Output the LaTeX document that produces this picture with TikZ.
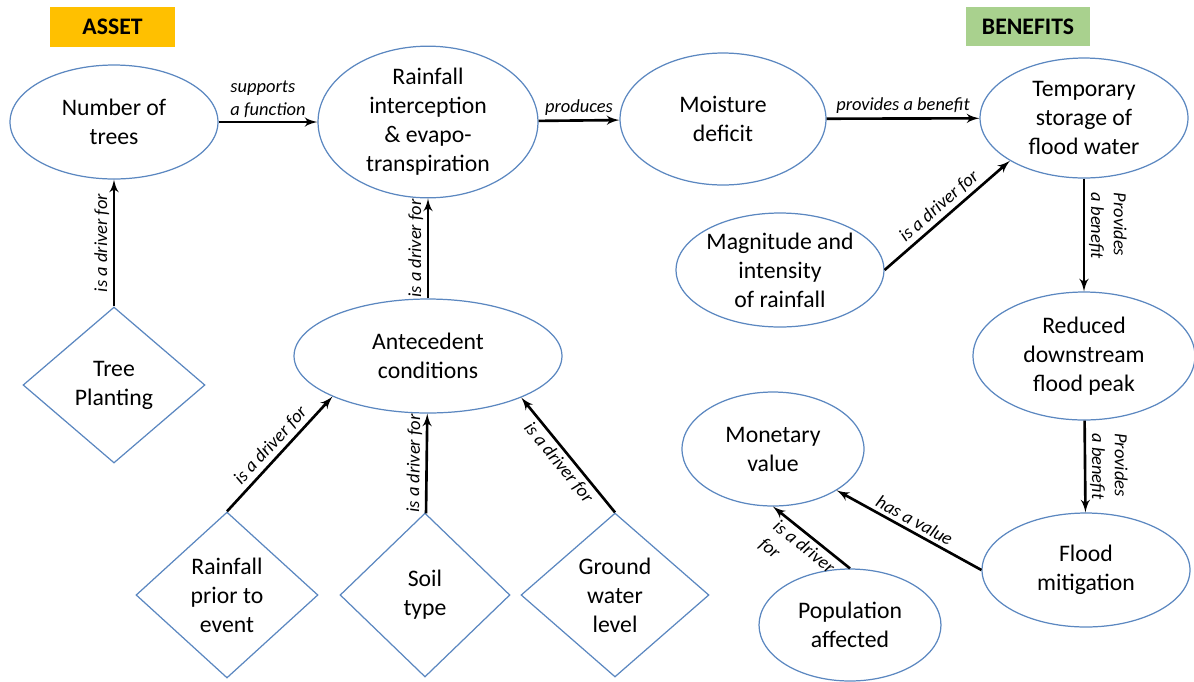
\documentclass[tikz,border=0pt]{standalone}
\usepackage{fontspec}
\setmainfont{Carlito}
\usetikzlibrary{arrows,shapes.geometric}
\definecolor{ellblue}{HTML}{5B87C0}
\definecolor{assetfill}{HTML}{FFC000}
\definecolor{benefitfill}{HTML}{A9D18E}

\begin{document}
\begin{tikzpicture}[x=0.02cm,y=-0.02cm,
    concept/.style={ellipse,draw=ellblue,line width=0.7pt,inner sep=0pt,align=center,font=\fontsize{13.5}{16.5}\selectfont},
    factor/.style={diamond,draw=ellblue,line width=0.7pt,inner sep=0pt,aspect=1,align=center,font=\fontsize{13.5}{16.5}\selectfont},
    link/.style={-latex',line width=1.5pt},
    verb/.style={font=\fontsize{10.5}{13}\selectfont\itshape,align=left,inner sep=2pt},
    tag/.style={inner sep=0pt,font=\fontsize{13.5}{16.5}\selectfont\bfseries}]
    \useasboundingbox (0,0) rectangle (1194,681);

    \node[tag,fill=assetfill,minimum width=2.5cm,minimum height=0.8cm] (asset) at (112.5,27) {ASSET};
    \node[tag,fill=benefitfill,minimum width=2.48cm,minimum height=0.78cm] (benefits) at (1028,26.5) {BENEFITS};

    \node[concept,minimum width=4.16cm,minimum height=2.28cm] (trees) at (114,122) {Number of\\trees};
    \node[concept,minimum width=4.4cm,minimum height=2.64cm] (interc) at (428,122) {Rainfall\\interception\\\& evapo-\\transpiration};
    \node[concept,minimum width=4.12cm,minimum height=2.64cm] (moist) at (723,119) {Moisture\\deficit};
    \node[concept,minimum width=4.16cm,minimum height=2.4cm] (temp) at (1084,118) {Temporary\\storage of\\flood water};
    \node[concept,minimum width=4.12cm,minimum height=2.28cm] (magn) at (780,270) {Magnitude and\\intensity\\of rainfall};
    \node[concept,minimum width=5.36cm,minimum height=2.28cm] (ante) at (428,356) {Antecedent\\conditions};
    \node[concept,minimum width=4.44cm,minimum height=2.56cm] (red) at (1084,356) {Reduced\\downstream\\flood peak};
    \node[concept,minimum width=3.64cm,minimum height=2.28cm] (mon) at (773,449) {Monetary\\value};
    \node[concept,minimum width=4.16cm,minimum height=2.28cm] (flood) at (1086,570) {Flood\\mitigation};
    \node[concept,minimum width=3.64cm,minimum height=2.24cm] (pop) at (850,625) {Population\\affected};

    \node[factor,minimum width=3.64cm,minimum height=3.12cm] (tree) at (114,385) {Tree\\Planting};
    \node[factor,minimum width=3.64cm,minimum height=3.32cm] (prior) at (227,595) {Rainfall\\prior to\\event};
    \node[factor,minimum width=3.4cm,minimum height=3.28cm] (soil) at (425,595) {Soil\\type};
    \node[factor,minimum width=3.76cm,minimum height=3.28cm] (ground) at (615,595) {Ground\\water\\level};

    \draw[link] (tree) -- (trees) node[verb,midway,rotate=90,anchor=south] {is a driver for};
    \draw[link] (trees) -- (interc) node[verb,midway,above] {supports\\a function};
    \draw[link] (interc) -- (moist) node[verb,midway,above] {produces};
    \draw[link] (moist) -- (temp) node[verb,midway,above] {provides a benefit};
    \draw[link] (ante) -- (interc) node[verb,midway,rotate=90,anchor=south] {is a driver for};
    \draw[link] (magn.east) -- (temp.210) node[verb,midway,sloped,above] {is a driver for};
    \draw[link] (temp) -- (red) node[verb,pos=0.42,rotate=-90,anchor=south] {Provides\\a benefit};
    \draw[link] (red) -- (flood) node[verb,midway,rotate=-90,anchor=south] {Provides\\a benefit};
    \draw[link] (flood.west) -- (mon.327) node[verb,midway,sloped,above] {has a value};
    \draw[link] (pop.north) -- (mon.south) node[verb,midway,sloped,below] {is a driver\\for};
    \draw[link] (prior.north) -- (ante.203) node[verb,midway,sloped,above] {is a driver for};
    \draw[link] (soil) -- (ante) node[verb,midway,sloped,above] {is a driver for};
    \draw[link] (ground.north) -- (ante.336) node[verb,midway,sloped,below] {is a driver for};
\end{tikzpicture}
\end{document}
